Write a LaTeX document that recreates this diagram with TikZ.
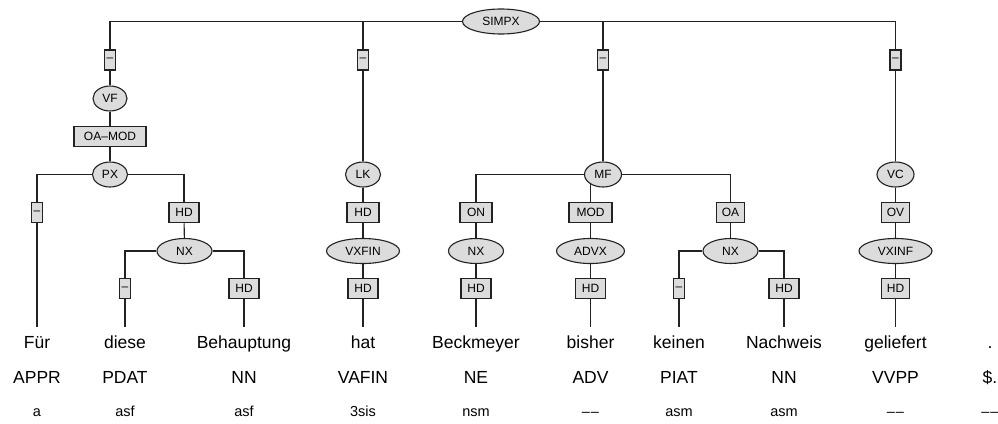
\documentclass[tikz,border=0pt]{standalone}
\usepackage{fontspec}
\setmainfont{Liberation Sans}
\usetikzlibrary{shapes.geometric,backgrounds}
\definecolor{nodefill}{HTML}{DCDCDC}
\definecolor{ink}{HTML}{222222}
\newcommand{\dd}{–\kern1pt–}
\begin{document}
\begin{tikzpicture}[x=1pt,y=-1pt,
  cat/.style={ellipse,draw=ink,fill=nodefill,line width=1.1pt,inner sep=0pt,minimum height=25pt,minimum width=#1,font=\fontsize{12}{14}\selectfont},
  fn/.style={rectangle,draw=ink,fill=nodefill,line width=1.1pt,inner sep=0pt,minimum height=20pt,minimum width=#1,font=\fontsize{12}{14}\selectfont},
  wordn/.style={anchor=base,inner xsep=1pt,inner ysep=7.5pt,text height=13pt,text depth=4pt,font=\fontsize{17.5}{20}\selectfont},
  postag/.style={anchor=base,inner sep=1pt,font=\fontsize{17.5}{20}\selectfont},
  morph/.style={anchor=base,inner sep=1pt,font=\fontsize{14.5}{17}\selectfont},
  conn/.style={draw=ink,line width=1.1pt}]
\useasboundingbox (0,0) rectangle (998,423);
% categories and functions
\node[cat=77pt] (simpx) at (501,21.5) {SIMPX};
\node[fn=11pt] (d1) at (110,60) {–};
\node[fn=11pt] (d2) at (363,60) {–};
\node[fn=11pt] (d3) at (603,60) {–};
\node[fn=11pt] (d4) at (895.5,60) {–};
\node[cat=34pt] (vf) at (110,98.5) {VF};
\node[fn=72pt] (oamod) at (110,136.5) {OA–MOD};
\node[cat=35pt] (px) at (110,174.5) {PX};
\node[fn=11pt] (px1) at (37,212.7) {–};
\node[fn=30pt] (px2) at (184,212.7) {HD};
\node[cat=55pt] (nx1) at (184.5,251) {NX};
\node[fn=11pt] (nx1a) at (125,288.5) {–};
\node[fn=30pt] (nx1b) at (244,288.5) {HD};
\node[cat=35pt] (lk) at (363,174.5) {LK};
\node[fn=32pt] (lk1) at (363,212.7) {HD};
\node[cat=73pt] (vxfin) at (363,251) {VXFIN};
\node[fn=30pt] (vxfin1) at (363,288.5) {HD};
\node[cat=37pt] (mf) at (603,174.5) {MF};
\node[fn=32pt] (on) at (476,212.7) {ON};
\node[cat=55pt] (nx2) at (476,251) {NX};
\node[fn=30pt] (nx2a) at (476,288.5) {HD};
\node[fn=43pt] (mod) at (590.5,212.7) {MOD};
\node[cat=68pt] (advx) at (590.5,251) {ADVX};
\node[fn=30pt] (advx1) at (590.5,288.5) {HD};
\node[fn=28pt] (oa) at (730.5,212.7) {OA};
\node[cat=55pt] (nx3) at (730.5,251) {NX};
\node[fn=11pt] (nx3a) at (679,288.5) {–};
\node[fn=30pt] (nx3b) at (784,288.5) {HD};
\node[cat=37pt] (vc) at (895.5,174.5) {VC};
\node[fn=28pt] (ov) at (895.5,212.7) {OV};
\node[cat=73pt] (vxinf) at (895.5,251) {VXINF};
\node[fn=28pt] (vxinf1) at (895.5,288.5) {HD};
% words
\node[wordn] (w1) at (37,348) {Für};
\node[wordn] (w2) at (125,348) {diese};
\node[wordn] (w3) at (244,348) {Behauptung};
\node[wordn] (w4) at (363,348) {hat};
\node[wordn] (w5) at (476,348) {Beckmeyer};
\node[wordn] (w6) at (590.5,348) {bisher};
\node[wordn] (w7) at (679,348) {keinen};
\node[wordn] (w8) at (784,348) {Nachweis};
\node[wordn] (w9) at (895.5,348) {geliefert};
\node[wordn] (w10) at (990,348) {.};
% POS tags
\node[postag] (p1) at (37,383.3) {APPR};
\node[postag] (p2) at (125,383.3) {PDAT};
\node[postag] (p3) at (244,383.3) {NN};
\node[postag] (p4) at (363,383.3) {VAFIN};
\node[postag] (p5) at (476,383.3) {NE};
\node[postag] (p6) at (590.5,383.3) {ADV};
\node[postag] (p7) at (679,383.3) {PIAT};
\node[postag] (p8) at (784,383.3) {NN};
\node[postag] (p9) at (895.5,383.3) {VVPP};
\node[postag] (p10) at (990,383.3) {\$.};
% morphology
\node[morph] (m1) at (37,416.7) {a};
\node[morph] (m2) at (125,416.7) {asf};
\node[morph] (m3) at (244,416.7) {asf};
\node[morph] (m4) at (363,416.7) {3sis};
\node[morph] (m5) at (476,416.7) {nsm};
\node[morph] (m6) at (590.5,416.7) {\dd};
\node[morph] (m7) at (679,416.7) {asm};
\node[morph] (m8) at (784,416.7) {asm};
\node[morph] (m9) at (895.5,416.7) {\dd};
\node[morph] (m10) at (990,416.7) {\dd};
\begin{pgfonlayer}{background}
\fill[white] (0,0) rectangle (998,423);
\draw[conn] (simpx) -| (d1);
\draw[conn] (simpx) -| (d2);
\draw[conn] (simpx) -| (d3);
\draw[conn] (simpx) -| (d4);
\draw[conn] (d1) -- (vf) -- (oamod) -- (px);
\draw[conn] (px) -| (px1);
\draw[conn] (px) -| (px2);
\draw[conn] (px2) -- (nx1);
\draw[conn] (nx1) -| (nx1a);
\draw[conn] (nx1) -| (nx1b);
\draw[conn] (px1) -- (w1.north);
\draw[conn] (nx1a) -- (w2.north);
\draw[conn] (nx1b) -- (w3.north);
\draw[conn] (d2) -- (lk) -- (lk1) -- (vxfin) -- (vxfin1) -- (w4.north);
\draw[conn] (d3) -- (mf);
\draw[conn] (mf) -| (on);
\draw[conn] (mf) -| (mod);
\draw[conn] (mf) -| (oa);
\draw[conn] (on) -- (nx2) -- (nx2a) -- (w5.north);
\draw[conn] (mod) -- (advx) -- (advx1) -- (w6.north);
\draw[conn] (oa) -- (nx3);
\draw[conn] (nx3) -| (nx3a);
\draw[conn] (nx3) -| (nx3b);
\draw[conn] (nx3a) -- (w7.north);
\draw[conn] (nx3b) -- (w8.north);
\draw[conn] (d4) -- (vc) -- (ov) -- (vxinf) -- (vxinf1) -- (w9.north);
\end{pgfonlayer}
\end{tikzpicture}
\end{document}
